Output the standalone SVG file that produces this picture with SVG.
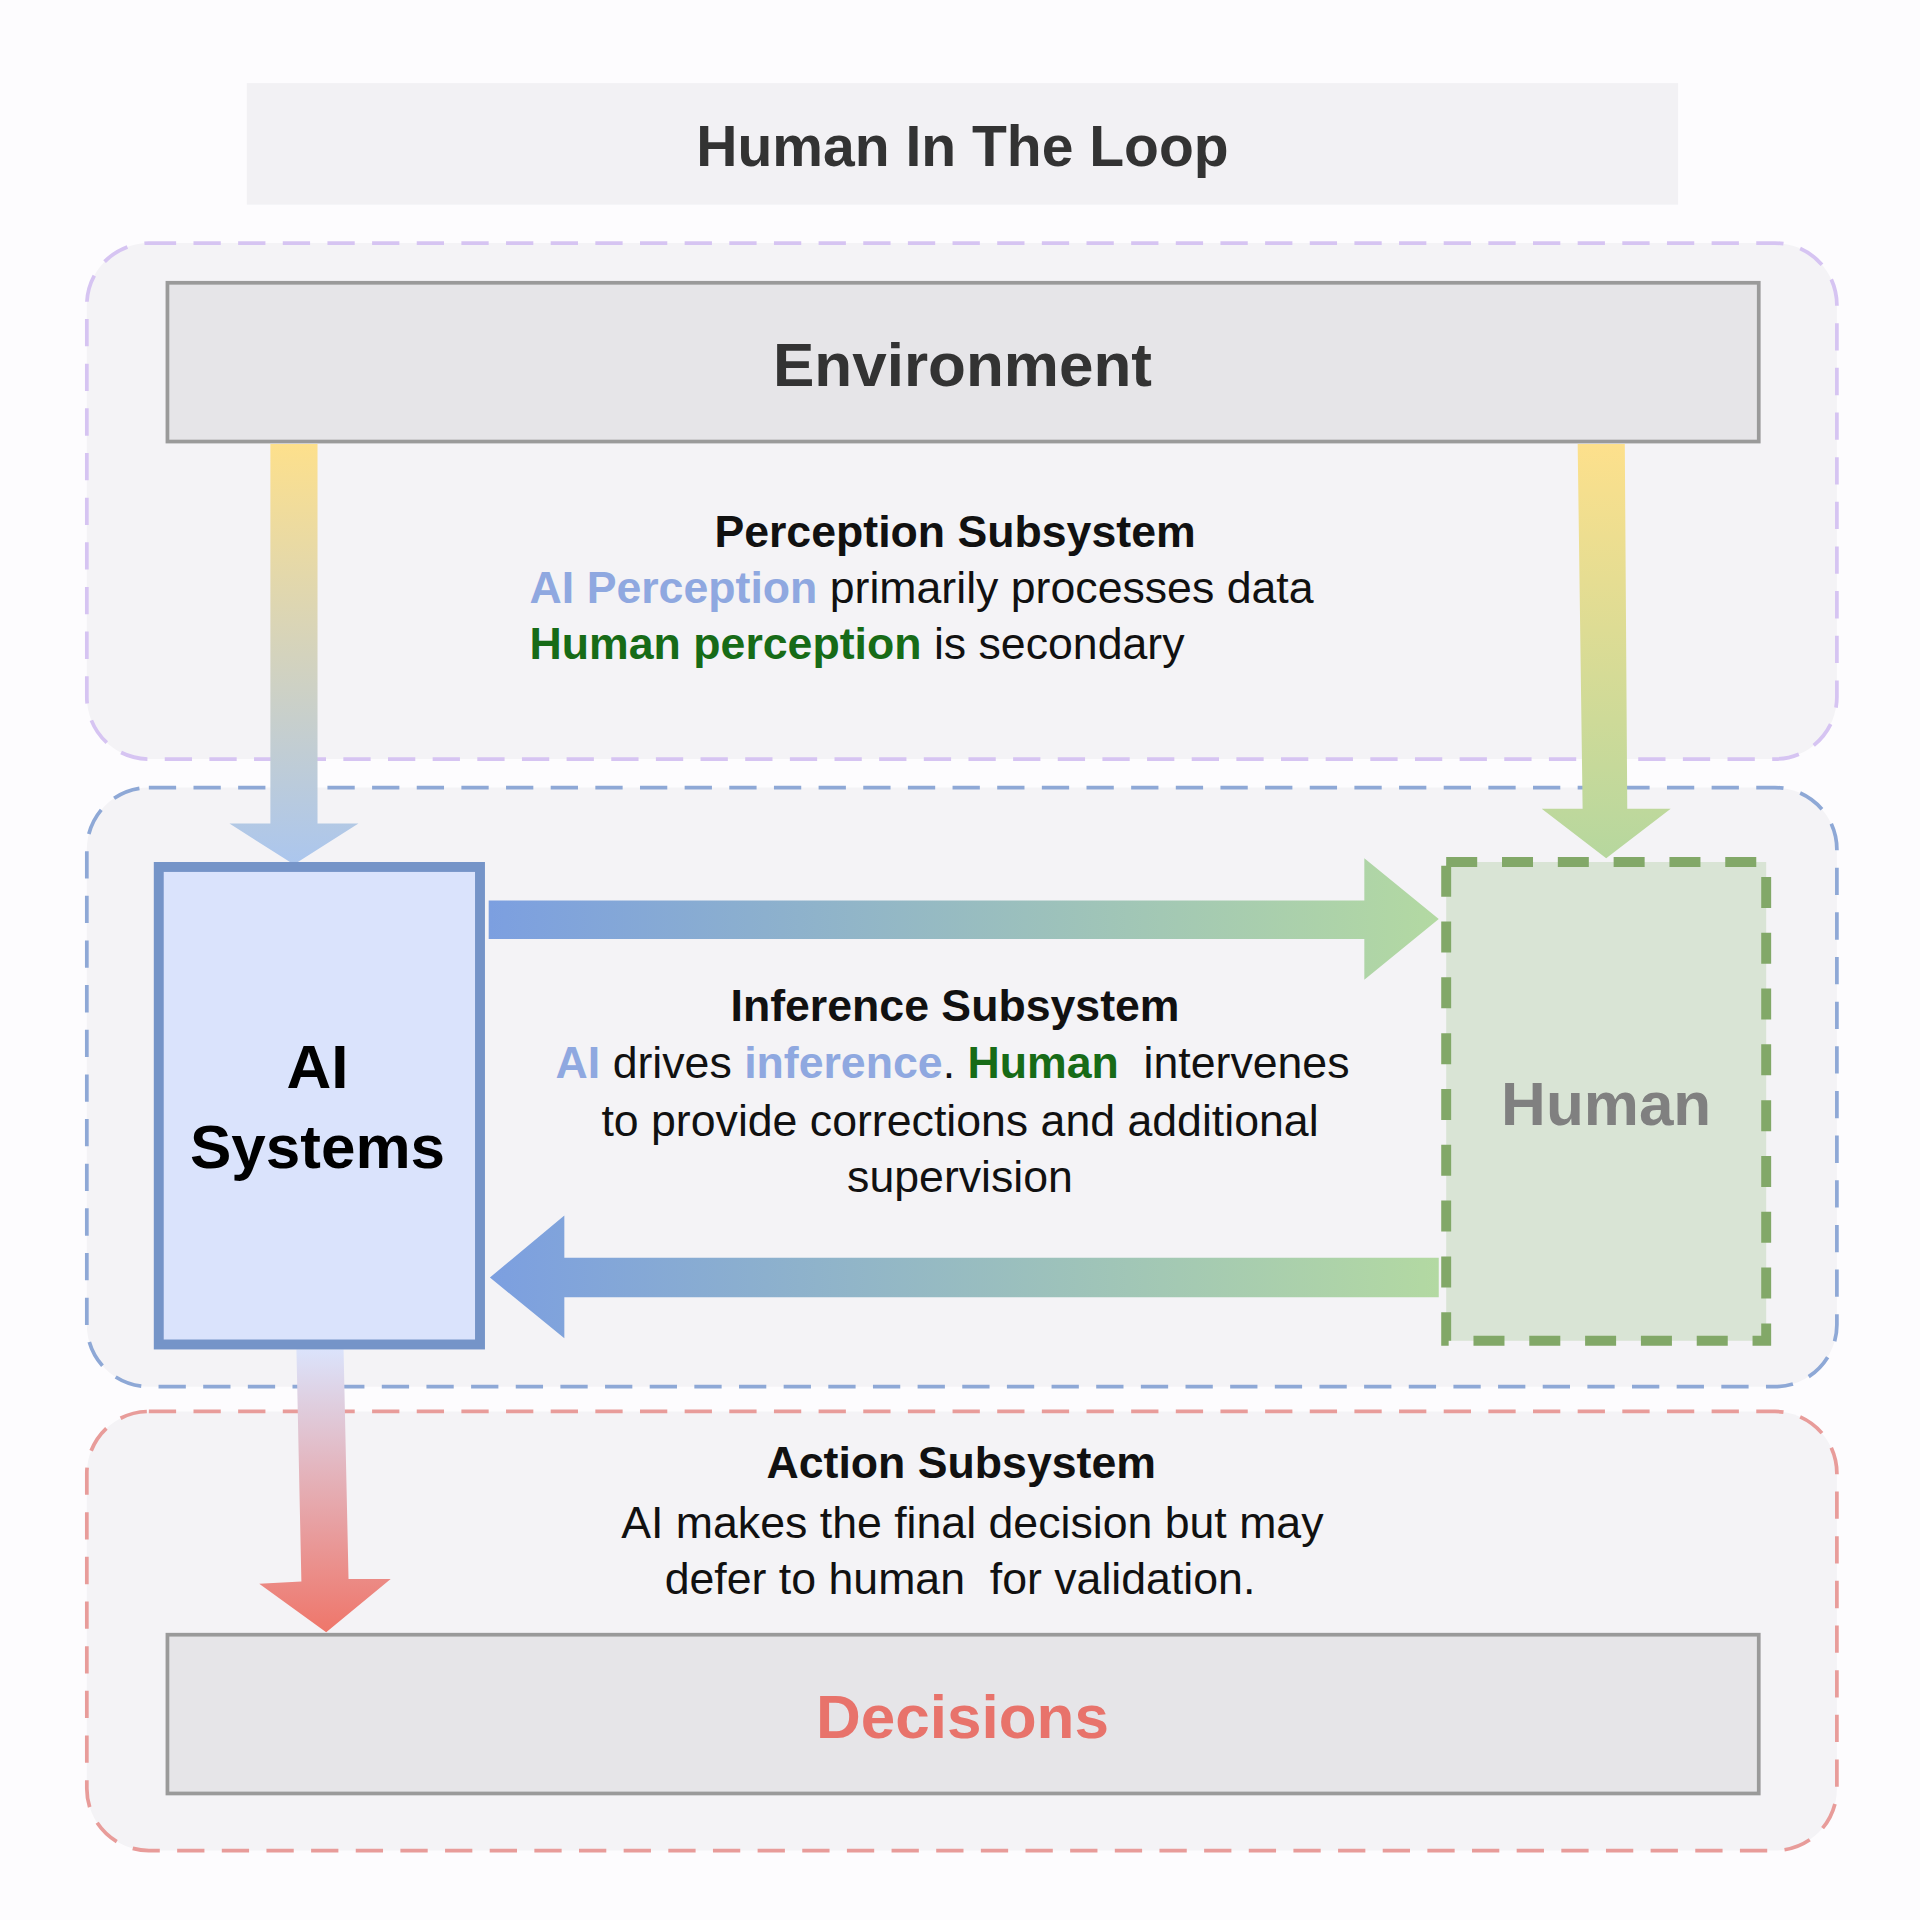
<svg xmlns="http://www.w3.org/2000/svg" width="1920" height="1920" viewBox="0 0 1920 1920">
<defs>
<style>
text{font-family:"Liberation Sans",Arial,sans-serif;}
.b{font-weight:bold}
.t{font-size:36px;fill:#111}
.big{font-size:50px;font-weight:bold;text-anchor:middle}
.cont{fill:#f4f3f6;stroke-width:3;stroke-dasharray:22 14}
.bar{fill:#e6e5e8;stroke:#9a9a9a;stroke-width:3}
</style>
<linearGradient id="gL" x1="0" y1="0" x2="0" y2="1"><stop offset="0" stop-color="#fde08c"/><stop offset="1" stop-color="#abc6ee"/></linearGradient>
<linearGradient id="gR" x1="0" y1="0" x2="0" y2="1"><stop offset="0" stop-color="#fde08c"/><stop offset="1" stop-color="#b6d79e"/></linearGradient>
<linearGradient id="gH" x1="0" y1="0" x2="1" y2="0"><stop offset="0" stop-color="#7c9fe0"/><stop offset="1" stop-color="#b3d9a2"/></linearGradient>
<linearGradient id="gD" x1="0" y1="0" x2="0" y2="1"><stop offset="0" stop-color="#dbe3fb"/><stop offset="1" stop-color="#ef766a"/></linearGradient>
</defs>
<rect width="1920" height="1920" fill="#fdfcfe"/>
<g transform="scale(1.2403)">
<g id="title"><rect x="199" y="67" width="1154" height="98" fill="#f2f1f4"/><text x="776" y="134" class="b" font-size="46" text-anchor="middle" fill="#333">Human In The Loop</text></g>
<g id="perception"><rect class="cont" x="70" y="196" width="1411" height="416" rx="50" stroke="#d6c4f2"/></g>
<g id="inference"><rect class="cont" x="70" y="635" width="1411" height="483" rx="50" stroke="#8ea8d6"/></g>
<g id="action"><rect class="cont" x="70" y="1138" width="1411" height="354" rx="50" stroke="#e89c9a"/></g>
<g id="environment"><rect class="bar" x="135" y="228" width="1283" height="128"/><text x="776" y="311" class="big" fill="#333">Environment</text></g>
<g id="decisions"><rect class="bar" x="135" y="1318" width="1283" height="128"/><text x="776" y="1401" class="big" fill="#e8736b">Decisions</text></g>
<g id="connectors">
<polygon points="218,358 256,358 256,664 289,664 237,697 185,664 218,664" fill="url(#gL)"/>
<polygon points="1272,358 1310,358 1312,652 1347,652 1295,692 1243,652 1276,652" fill="url(#gR)"/>
<polygon points="394,726 1100,726 1100,692 1160,741 1100,790 1100,757 394,757" fill="url(#gH)"/>
<polygon points="1160,1014 455,1014 455,980 395,1030 455,1079 455,1046 1160,1046" fill="url(#gH)"/>
<polygon points="239,1088 277,1088 281,1273 315,1273 263,1316 209,1277 243,1275" fill="url(#gD)"/>
</g>
<g id="ai"><rect x="128" y="699" width="259" height="385" fill="#dae3fc" stroke="#7594c8" stroke-width="8"/><text x="256" y="877" class="big" fill="#000">AI</text><text x="256" y="942" class="big" fill="#000">Systems</text></g>
<g id="human"><rect x="1166" y="695" width="258" height="386" fill="#d9e4d5" stroke="#82a868" stroke-width="8" stroke-dasharray="25 20"/><text x="1295" y="907" class="big" fill="#808080">Human</text></g>
<g id="labels" class="t">
<text x="770" y="441" class="b" text-anchor="middle">Perception Subsystem</text>
<text x="427" y="486"><tspan class="b" fill="#8fa8e0">AI Perception</tspan> primarily processes data</text>
<text x="427" y="531"><tspan class="b" fill="#176b17">Human perception</tspan> is secondary</text>
<text x="770" y="823" class="b" text-anchor="middle">Inference Subsystem</text>
<text x="768" y="869" text-anchor="middle" xml:space="preserve"><tspan class="b" fill="#8fa8e0">AI</tspan> drives <tspan class="b" fill="#8fa8e0">inference</tspan>. <tspan class="b" fill="#176b17">Human</tspan>  intervenes</text>
<text x="774" y="916" text-anchor="middle">to provide corrections and additional</text>
<text x="774" y="961" text-anchor="middle">supervision</text>
<text x="775" y="1192" class="b" text-anchor="middle">Action Subsystem</text>
<text x="784" y="1240" text-anchor="middle">AI makes the final decision but may</text>
<text x="774" y="1285" text-anchor="middle" xml:space="preserve">defer to human  for validation.</text>
</g>
</g>
</svg>
